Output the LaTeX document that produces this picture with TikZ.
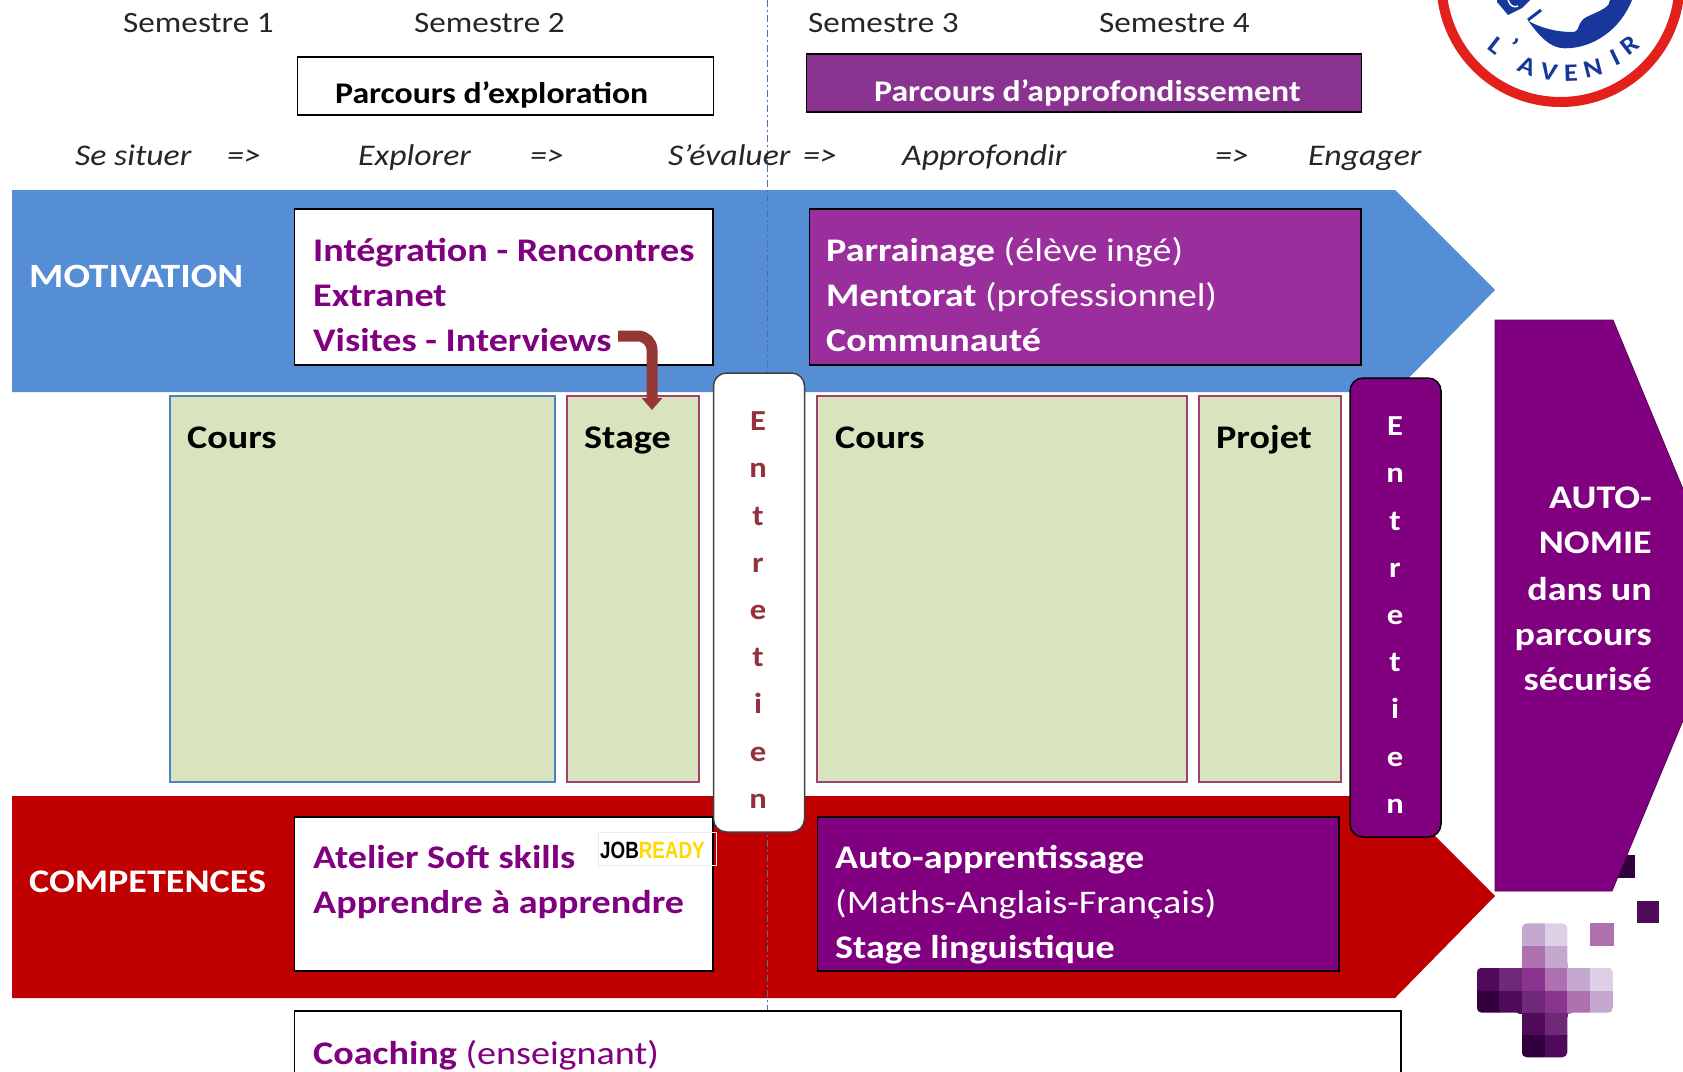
\documentclass[tikz,border=0pt]{standalone}
\usepackage{fontspec}
\setmainfont{Carlito}[FakeStretch=1.125]
\newfontfamily\lblfont{Carlito}[FakeStretch=1.155]
\newfontfamily\jobfont{Liberation Sans}[FakeStretch=0.8]
\usetikzlibrary{arrows.meta}
\definecolor{bluearrow}{HTML}{558ED5}
\definecolor{redarrow}{HTML}{C00000}
\definecolor{greenbox}{HTML}{D7E4BD}
\definecolor{purpa}{HTML}{800080}
\definecolor{purpb}{HTML}{992E9C}
\definecolor{purpc}{HTML}{8B3391}
\definecolor{rosebord}{HTML}{A0406F}
\definecolor{bluebord}{HTML}{4F81BD}
\definecolor{darkred}{HTML}{953735}
\definecolor{logoblue}{HTML}{17389A}
\definecolor{logored}{HTML}{E2201C}
\definecolor{jobyellow}{HTML}{FFD800}
\definecolor{pa}{HTML}{33003F}\definecolor{pb}{HTML}{500A5A}\definecolor{pc}{HTML}{6E2A78}
\definecolor{pd}{HTML}{8A3490}\definecolor{pe}{HTML}{AE70AE}\definecolor{pf}{HTML}{C4A8D0}\definecolor{pg}{HTML}{DDD0E6}
\tikzset{
 base/.style={inner sep=0pt,outer sep=0pt,anchor=north west},
 whitebox/.style={base,draw=black,line width=1.1pt,fill=white},
 greenrect/.style={base,draw=rosebord,line width=1.1pt,fill=greenbox},
 txt/.style={inner sep=0pt,anchor=base west},
 head/.style={txt,font=\fontsize{29.5}{36}\selectfont,text=black!85},
 step row/.style={txt,font=\fontsize{30}{36}\selectfont\itshape,text=black!85},
 hdr/.style={txt,font=\fontsize{30}{36}\selectfont\bfseries},
 lbl/.style={txt,font=\lblfont\fontsize{33}{45}\selectfont\bfseries},
 vert/.style={inner sep=0pt,align=center,font=\fontsize{29}{47.2}\selectfont\bfseries},
 logoL/.style={inner sep=0pt,text=logoblue,font=\fontsize{25}{25}\selectfont\bfseries},
}
\newcommand{\cell}[3]{\fill[#3] (#1,#2) rectangle ++(23,23);}
\begin{document}
\begin{tikzpicture}[x=1pt,y=-1pt]
\useasboundingbox (0,0) rectangle (1683,1071);
\clip (0,0) rectangle (1683,1071);
\fill[white] (0,0) rectangle (1683,1071);
% logo
\draw[logored,line width=10pt,fill=white] (1560.5,-17) circle[radius=119pt];
\fill[logoblue] (1528,20.7) .. controls (1540,36.7) and (1550,48.3) .. (1565,48.3)
  .. controls (1593,48.3) and (1620,30) .. (1632,0) -- (1610,0)
  .. controls (1610,6.7) and (1602,10) .. (1587,16.7)
  .. controls (1577,21.7) and (1580,30) .. (1575,31.7)
  .. controls (1560,33) and (1540,28) .. (1528,20.7) -- cycle;
\fill[logoblue] (1497,2) -- (1508,15) -- (1522,8) -- (1530,0) -- (1497,0) -- cycle;
\draw[logoblue,line width=3pt] (1528,20) -- (1541,10);
\draw[white,line width=1.5pt] (1508,0) .. controls (1510,6) and (1514,8) .. (1518,6);
\node[logoL,rotate=-38] (l1) at (1496,46) {L};
\node[logoL,rotate=-30] (l2) at (1513,46) {'};
\node[logoL,rotate=-22] (l3) at (1527,66) {A};
\node[logoL,rotate=-10] (l4) at (1549,72) {V};
\node[logoL,rotate=2] (l5) at (1571,73) {E};
\node[logoL,rotate=14] (l6) at (1593,68) {N};
\node[logoL,rotate=26] (l7) at (1615,58) {I};
\node[logoL,rotate=38] (l8) at (1630,45) {R};
% pixel plus
\cell{1612}{855}{pa}
\fill[pb] (1636.5,900.5) rectangle ++(22.5,22.5);
\fill[pe] (1590,923) rectangle ++(23.5,22.5);
\begin{scope}
\clip[rounded corners=5pt] (1521.7,923.3) -- (1567.3,923.3) -- (1567.3,967.7) -- (1613,967.7) -- (1613,1012.7) -- (1567.3,1012.7) -- (1567.3,1057.3) -- (1521.7,1057.3) -- (1521.7,1012.7) -- (1476.7,1012.7) -- (1476.7,967.7) -- (1521.7,967.7) -- cycle;
\cell{1521.7}{923.3}{pf}\cell{1544.5}{923.3}{pg}
\cell{1521.7}{945.5}{pe}\cell{1544.5}{945.5}{pf}
\cell{1476.7}{967.7}{pb}\cell{1499}{967.7}{pc}\cell{1521.7}{967.7}{pd}\cell{1544.5}{967.7}{pe}\cell{1567.3}{967.7}{pf}\cell{1590}{967.7}{pg}
\cell{1476.7}{990.5}{pa}\cell{1499}{990.5}{pb}\cell{1521.7}{990.5}{pc}\cell{1544.5}{990.5}{pd}\cell{1567.3}{990.5}{pe}\cell{1590}{990.5}{pf}
\cell{1521.7}{1012.7}{pb}\cell{1544.5}{1012.7}{pc}
\cell{1521.7}{1035}{pa}\cell{1544.5}{1035}{pb}
\end{scope}
% arrows
\fill[bluearrow] (12,190) -- (1395,190) -- (1495,290) -- (1395,392) -- (12,392) -- cycle;
\fill[redarrow] (12,796) -- (1395,796) -- (1495,896) -- (1395,998) -- (12,998) -- cycle;
% autonomie
\filldraw[fill=purpa,draw=purpa!70!black,line width=.8pt] (1495,320) -- (1613,320) -- (1731,605) -- (1612,891) -- (1495,891) -- cycle;
% dash line
\draw[bluebord!90!black,line width=1pt,dash pattern=on 7pt off 3pt on 2pt off 3pt] (767.5,0) -- (767.5,1011);
% header
\node[head] (s1) at (123,32) {Semestre 1};
\node[head] (s2) at (414,32) {Semestre 2};
\node[head] (s3) at (808,32) {Semestre 3};
\node[head] (s4) at (1099,32) {Semestre 4};
\node[whitebox,minimum width=416pt,minimum height=58pt] (pex) at (297.5,57) {};
\node[hdr] (pext) at (335,103) {Parcours d’exploration};
\node[base,fill=purpc,draw=black,line width=1.1pt,minimum width=555pt,minimum height=58pt] (pap) at (806.5,54) {};
\node[hdr,text=white] (papt) at (874,101) {Parcours d’approfondissement};
\node[step row] (i1) at (75,165) {Se situer};
\node[step row] (i2) at (227,165) {=>};
\node[step row] (i3) at (358,165) {Explorer};
\node[step row] (i4) at (530,165) {=>};
\node[step row] (i5) at (668,165) {S’évaluer};
\node[step row] (i6) at (803,165) {=>};
\node[step row] (i7) at (902,165) {Approfondir};
\node[step row] (i8) at (1215,165) {=>};
\node[step row] (i9) at (1308,165) {Engager};
% boxes
\node[whitebox,minimum width=418.5pt,minimum height=156pt] (b1) at (294.5,209) {};
\node[base,fill=purpb,draw=black,line width=1.1pt,minimum width=551.5pt,minimum height=156pt] (b2) at (809.5,209) {};
\node[greenrect,draw=bluebord,minimum width=385pt,minimum height=386pt] (c1) at (170,396) {};
\node[greenrect,minimum width=132pt,minimum height=386pt] (st) at (567,396) {};
\node[greenrect,minimum width=370pt,minimum height=386pt] (c2) at (817,396) {};
\node[greenrect,minimum width=142pt,minimum height=386pt] (pj) at (1199,396) {};
\node[whitebox,minimum width=418.5pt,minimum height=154pt] (b3) at (294.5,817) {};
\node[base,fill=purpa,draw=black,line width=1.1pt,minimum width=521.5pt,minimum height=154pt] (b4) at (817.5,817) {};
\node[whitebox,minimum width=1106.5pt,minimum height=100pt] (b5) at (294.5,1011) {};
% labels in boxes
\node[lbl,text=white,font=\lblfont\fontsize{34}{45}\selectfont\bfseries] (mot) at (29,287) {MOTIVATION};
\node[lbl,text=white] (com) at (29,892.5) {COMPETENCES};
\node[lbl,text=purpa] (t1) at (313,261) {Intégration - Rencontres};
\node[lbl,text=purpa] (t2) at (313,306) {Extranet};
\node[lbl,text=purpa] (t3) at (313,351) {Visites - Interviews};
\node[lbl,text=white] (t4) at (826,261) {Parrainage \mdseries(élève ingé)};
\node[lbl,text=white] (t5) at (826,306) {Mentorat \mdseries(professionnel)};
\node[lbl,text=white] (t6) at (826,351) {Communauté};
\node[lbl] (tc1) at (187,448) {Cours};
\node[lbl] (tst) at (584,448) {Stage};
\node[lbl] (tc2) at (835,448) {Cours};
\node[lbl] (tpj) at (1216,448) {Projet};
\node[lbl,text=purpa] (t7) at (313,868) {Atelier Soft skills};
\node[lbl,text=purpa] (t8) at (313,913) {Apprendre à apprendre};
\node[lbl,text=white] (t9) at (835,868) {Auto-apprentissage};
\node[lbl,text=white,font=\lblfont\fontsize{33}{45}\selectfont] (t10) at (835,913) {(Maths-Anglais-Français)};
\node[lbl,text=white] (t11) at (835,958.5) {Stage linguistique};
\node[lbl,text=purpa] (t12) at (313,1064.5) {Coaching \mdseries(enseignant)};
% jobready
\draw[black!8,line width=.7pt] (598,832) rectangle (716,865);
\node[txt,font=\jobfont\fontsize{23.5}{24}\selectfont\bfseries,text=black] (job) at (600,858) {JOB\textcolor{jobyellow}{READY}};
% entretiens
\node[base,draw=black!75,fill=white,line width=1.5pt,rounded corners=13pt,minimum width=91pt,minimum height=459pt] (e1) at (713.5,373) {};
\node[vert,text=darkred!90!purpa] (e1t) at (758,610) {E\\n\\t\\r\\e\\t\\i\\e\\n};
\node[base,draw=black,fill=purpa,line width=1.5pt,rounded corners=13pt,minimum width=91pt,minimum height=459pt] (e2) at (1350,378) {};
\node[vert,text=white] (e2t) at (1395,615) {E\\n\\t\\r\\e\\t\\i\\e\\n};
% connector
\coordinate (as) at (618,336);
\coordinate (ae) at (652,410);
\draw[darkred,line width=11pt,rounded corners=14pt,-{Triangle[width=20pt,length=12pt]}] (as) -| (ae);
% autonomie text
\node[lbl,text=white,anchor=base east] (au1) at (1652,508) {AUTO-};
\node[lbl,text=white,anchor=base east] (au2) at (1652,553) {NOMIE};
\node[lbl,text=white,anchor=base east] (au3) at (1652,600) {dans un};
\node[lbl,text=white,anchor=base east] (au4) at (1652,645) {parcours};
\node[lbl,text=white,anchor=base east] (au5) at (1652,690) {sécurisé};
\end{tikzpicture}
\end{document}
